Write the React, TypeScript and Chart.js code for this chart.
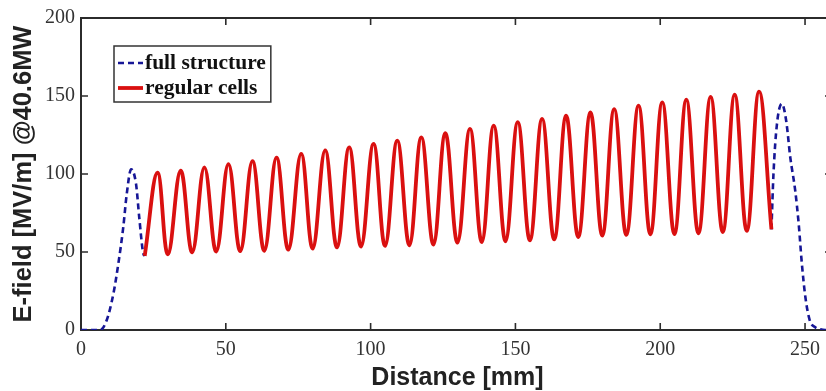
import React, { useEffect, useRef } from "react";
import { Chart, registerables } from "chart.js";

Chart.register(...registerables);

// ---- data ----
const legendLabels = ["full structure", "regular cells"];
const xTitle = "Distance [mm]";
const yTitle = "E-field [MV/m] @40.6MW";
const xTicks = [0, 50, 100, 150, 200, 250];
const yTicks = [0, 50, 100, 150, 200];

// regular cells: start, then peak / trough pairs, then end
const cellsX = [
  22.0, 26.4, 30.0, 34.4, 38.4, 42.6, 46.7, 50.9, 55.0, 59.2, 63.3, 67.5, 71.6,
  76.0, 80.0, 84.3, 88.4, 92.6, 96.7, 101.0, 105.0, 109.2, 113.4, 117.5, 121.7,
  125.8, 130.0, 134.3, 138.4, 142.5, 146.6, 150.8, 155.0, 159.2, 163.4, 167.5,
  171.7, 175.9, 180.0, 184.1, 188.3, 192.5, 196.6, 200.7, 204.9, 209.0, 213.2,
  217.4, 221.6, 225.7, 229.9, 234.1, 238.4,
];
const cellsY = [
  47.5, 100.8, 48.5, 102.2, 49.8, 104.2, 50.3, 106.3, 50.5, 108.2, 50.8, 110.5,
  51.5, 112.9, 52.2, 115.2, 53.0, 117.1, 53.5, 119.3, 53.9, 121.4, 54.3, 123.5,
  54.8, 126.2, 56.0, 128.9, 56.4, 131.0, 56.9, 133.3, 57.5, 135.3, 58.1, 137.4,
  59.6, 139.5, 60.5, 141.6, 61.0, 143.8, 61.3, 145.9, 61.5, 147.6, 62.0, 149.5,
  62.8, 150.8, 63.5, 152.8, 64.5,
];

// full structure (input coupler + output coupler parts; middle hidden under cells)
const fullX = [
  0, 6.6, 8.9, 11.2, 12.9, 14.6, 15.8, 17.3, 19.0, 20.1, 21.5, 22.0,
  130,
  238.4, 239.1, 240.3, 242.0, 243.5, 244.9, 246.6, 247.8, 248.9, 250.1, 251.6,
  253.5, 255.3, 257.0, 260.0,
];
const fullY = [
  0, 0, 6.4, 23.4, 42.6, 66.0, 87.3, 103.0, 93.7, 72.4, 49.0, 47.5,
  null,
  64.5, 100.0, 132.0, 145.0, 134.0, 110.7, 89.5, 68.2, 42.6, 21.3, 6.4,
  1.7, 0.4, 0, 0,
];

const RED = "rgb(218,16,16)";
const BLUE = "rgb(22,22,150)";
const AXIS = "#2b2b2b";

const framePlugin = {
  id: "matlabFrame",
  beforeDatasetsDraw(chart: any) {
    const { ctx, chartArea: a, scales } = chart;
    ctx.save();
    ctx.strokeStyle = AXIS;
    ctx.lineWidth = 2;
    ctx.strokeRect(a.left, a.top, a.right - a.left, a.bottom - a.top);
    ctx.lineWidth = 1.6;
    const L = 7;
    ctx.beginPath();
    for (const t of scales.x.ticks) {
      const px = scales.x.getPixelForValue(t.value);
      ctx.moveTo(px, a.bottom);
      ctx.lineTo(px, a.bottom - L);
      ctx.moveTo(px, a.top);
      ctx.lineTo(px, a.top + L);
    }
    for (const t of scales.y.ticks) {
      const py = scales.y.getPixelForValue(t.value);
      ctx.moveTo(a.left, py);
      ctx.lineTo(a.left + L, py);
      ctx.moveTo(a.right, py);
      ctx.lineTo(a.right - L - 2, py);
    }
    ctx.stroke();
    ctx.restore();
  },
  afterDatasetsDraw(chart: any) {
    const { ctx, chartArea: a } = chart;
    const ds = chart.data.datasets;
    ctx.save();
    ctx.font = "bold 21.5px 'Liberation Serif'";
    const items = [ds[0], ds[1]];
    let tw = 0;
    for (const d of items) tw = Math.max(tw, ctx.measureText(d.label).width);
    const bx = a.left + 33;
    const by = a.top + 28;
    const bw = 31 + tw + 5;
    const bh = 56;
    ctx.fillStyle = "#fff";
    ctx.fillRect(bx, by, bw, bh);
    ctx.strokeStyle = "#333";
    ctx.lineWidth = 1.5;
    ctx.strokeRect(bx, by, bw, bh);
    const rows = [by + 17, by + 42];
    items.forEach((d: any, i: number) => {
      const y = rows[i];
      ctx.beginPath();
      ctx.strokeStyle = d.borderColor;
      ctx.lineWidth = d.borderWidth;
      ctx.setLineDash(d.borderDash || []);
      ctx.moveTo(bx + 4, y);
      ctx.lineTo(bx + 29, y);
      ctx.stroke();
      ctx.setLineDash([]);
      ctx.fillStyle = "#111";
      ctx.textBaseline = "middle";
      ctx.textAlign = "left";
      ctx.fillText(d.label, bx + 31, y);
    });
    ctx.restore();
  },
};

export default function App() {
  const ref = useRef<HTMLCanvasElement>(null);
  useEffect(() => {
    if (!ref.current) return;
    const chart = new Chart(ref.current, {
      type: "line",
      data: {
        datasets: [
          {
            label: legendLabels[0],
            data: fullX.map((x, i) => ({ x, y: fullY[i] })),
            borderColor: BLUE,
            borderWidth: 2.6,
            borderDash: [6, 4],
            pointRadius: 0,
            cubicInterpolationMode: "monotone",
            spanGaps: false,
            fill: false,
            order: 2,
          },
          {
            label: legendLabels[1],
            data: cellsX.map((x, i) => ({ x, y: cellsY[i] })),
            borderColor: RED,
            borderWidth: 3.8,
            pointRadius: 0,
            tension: 0.4,
            fill: false,
            order: 1,
          },
        ] as any,
      },
      options: {
        responsive: false,
        animation: false,
        layout: { padding: { top: 17, right: 8, left: 0, bottom: 0 } },
        plugins: { legend: { display: false }, tooltip: { enabled: false } },
        scales: {
          x: {
            type: "linear",
            min: 0,
            max: 260,
            afterBuildTicks: (s: any) => {
              s.ticks = xTicks.map((v) => ({ value: v }));
            },
            afterFit: (s: any) => {
              s.height = 61;
            },
            ticks: {
              color: "#333",
              font: { family: "'Liberation Serif'", size: 20 },
              padding: 8,
              maxRotation: 0,
              autoSkip: false,
            },
            grid: { display: false, drawTicks: false },
            border: { display: false },
            title: {
              display: true,
              text: xTitle,
              color: "#222",
              font: { family: "'Liberation Sans'", size: 25, weight: "bold", lineHeight: 1 },
              padding: { top: 0, bottom: 0.5 },
            },
          },
          y: {
            type: "linear",
            min: 0,
            max: 200,
            afterBuildTicks: (s: any) => {
              s.ticks = yTicks.map((v) => ({ value: v }));
            },
            afterFit: (s: any) => {
              s.width = 81;
            },
            ticks: {
              color: "#333",
              font: { family: "'Liberation Serif'", size: 20 },
              padding: 6,
              autoSkip: false,
            },
            grid: { display: false, drawTicks: false },
            border: { display: false },
            title: {
              display: true,
              text: yTitle,
              color: "#222",
              font: { family: "'Liberation Sans'", size: 25.5, weight: "bold", lineHeight: 1 },
              padding: { top: 11, bottom: 0 },
            },
          },
        },
      } as any,
      plugins: [framePlugin],
    });
    return () => chart.destroy();
  }, []);
  return (
    <div
      style={{
        position: "fixed",
        left: 0,
        top: 0,
        width: 826,
        height: 391,
        overflow: "hidden",
        background: "#fff",
      }}
    >
      <canvas ref={ref} width={842} height={391} style={{ display: "block" }} />
    </div>
  );
}
